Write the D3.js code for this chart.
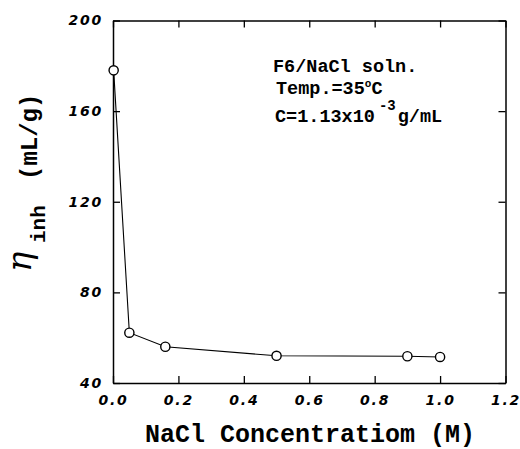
<!DOCTYPE html>
<html>
<head>
<meta charset="utf-8">
<script src="https://cdn.jsdelivr.net/npm/d3@7"></script>
<style>
  html, body { margin: 0; padding: 0; background: #fff; }
  svg { display: block; }
</style>
</head>
<body>
<svg id="chart" width="520" height="449"></svg>
<script>
// ---- data ----
const naclConc = [0.002, 0.05, 0.16, 0.5, 0.9, 1.0];       // M
const etaInh   = [178, 62.2, 56, 52, 51.8, 51.5];           // mL/g
const xTicks = [0.0, 0.2, 0.4, 0.6, 0.8, 1.0, 1.2];
const yTicks = [40, 80, 120, 160, 200];
const xTitle = "NaCl Concentratiom (M)";
const noteLines = ["F6/NaCl soln.", "Temp.=35", "C=1.13x10"];

const svg = d3.select("#chart");
const L = 113, R = 505.5, T = 20.5, B = 383;
const x = d3.scaleLinear().domain([0, 1.2]).range([L, R]);
const y = d3.scaleLinear().domain([40, 200]).range([B, T]);

const tickFont = "'DejaVu Sans', sans-serif";
const mono = "'Liberation Mono', 'Courier New', monospace";

function styleAxis(g) {
  g.attr("font-family", tickFont).attr("font-size", 14);
  g.selectAll("path.domain").attr("stroke", "#000").attr("stroke-width", 1.5);
  g.selectAll(".tick line").attr("stroke", "#000").attr("stroke-width", 1.3);
  g.selectAll(".tick text")
    .attr("fill", "#000")
    .style("font-family", tickFont)
    .style("font-weight", "bold")
    .style("font-style", "oblique")
    .style("font-size", "14px")
    .style("letter-spacing", "1.8px");
}

svg.append("g").attr("transform", `translate(0,${B})`)
  .call(d3.axisBottom(x).tickValues(xTicks).tickFormat(d3.format(".1f"))
        .tickSizeInner(-7).tickSizeOuter(0).tickPadding(12))
  .call(styleAxis);
svg.append("g").attr("transform", `translate(0,${T})`)
  .call(d3.axisTop(x).tickValues(xTicks).tickFormat("")
        .tickSizeInner(-7).tickSizeOuter(0))
  .call(styleAxis);
svg.append("g").attr("transform", `translate(${L},0)`)
  .call(d3.axisLeft(y).tickValues(yTicks).tickFormat(d3.format("d"))
        .tickSizeInner(-7).tickSizeOuter(0).tickPadding(10))
  .call(styleAxis);
svg.append("g").attr("transform", `translate(${R},0)`)
  .call(d3.axisRight(y).tickValues(yTicks).tickFormat("")
        .tickSizeInner(-7).tickSizeOuter(0))
  .call(styleAxis);

// data line and markers
const pts = naclConc.map((c, i) => [c, etaInh[i]]);
svg.append("path")
  .datum(pts)
  .attr("fill", "none")
  .attr("stroke", "#000")
  .attr("stroke-width", 1.1)
  .attr("d", d3.line().x(d => x(d[0])).y(d => y(d[1])));
svg.selectAll("circle.pt").data(pts).enter().append("circle")
  .attr("class", "pt")
  .attr("cx", d => x(d[0])).attr("cy", d => y(d[1]))
  .attr("r", 4.6)
  .attr("fill", "#fff").attr("stroke", "#000").attr("stroke-width", 1.4);

// x title
svg.append("text")
  .attr("x", 145).attr("y", 442)
  .style("font-family", mono).style("font-weight", "bold")
  .style("font-size", "25px")
  .text(xTitle);

// y title
const yt = svg.append("text")
  .attr("transform", "translate(37,272) rotate(-90)");
yt.append("tspan")
  .attr("x", 0).attr("y", -6)
  .style("font-family", "'DejaVu Serif', 'Liberation Serif', serif")
  .style("font-style", "italic")
  .style("font-size", "34px")
  .text("η");
yt.append("tspan")
  .attr("x", 29).attr("y", 8)
  .style("font-family", mono).style("font-weight", "bold")
  .style("font-size", "21px")
  .text("inh");
yt.append("tspan")
  .attr("x", 92).attr("y", 0)
  .style("font-family", mono).style("font-weight", "bold")
  .style("font-size", "24px")
  .text("(mL/g)");

// annotation
const noteStyle = t => t.style("font-family", mono).style("font-weight", "bold")
  .style("font-size", "18.5px");
svg.append("text").attr("x", 273).attr("y", 72).call(noteStyle).text(noteLines[0]);
const t2 = svg.append("text").attr("x", 276).attr("y", 94).call(noteStyle);
t2.append("tspan").text(noteLines[1]);
t2.append("tspan").attr("dy", -7).style("font-size", "11px").text("o");
t2.append("tspan").attr("dy", 7).text("C");
const t3 = svg.append("text").attr("x", 275).attr("y", 122).call(noteStyle);
t3.append("tspan").text(noteLines[2]);
t3.append("tspan").attr("dy", -12).attr("dx", 4).style("font-size", "14px").text("-3");
t3.append("tspan").attr("dy", 12).attr("dx", 2).text("g/mL");
</script>
</body>
</html>
